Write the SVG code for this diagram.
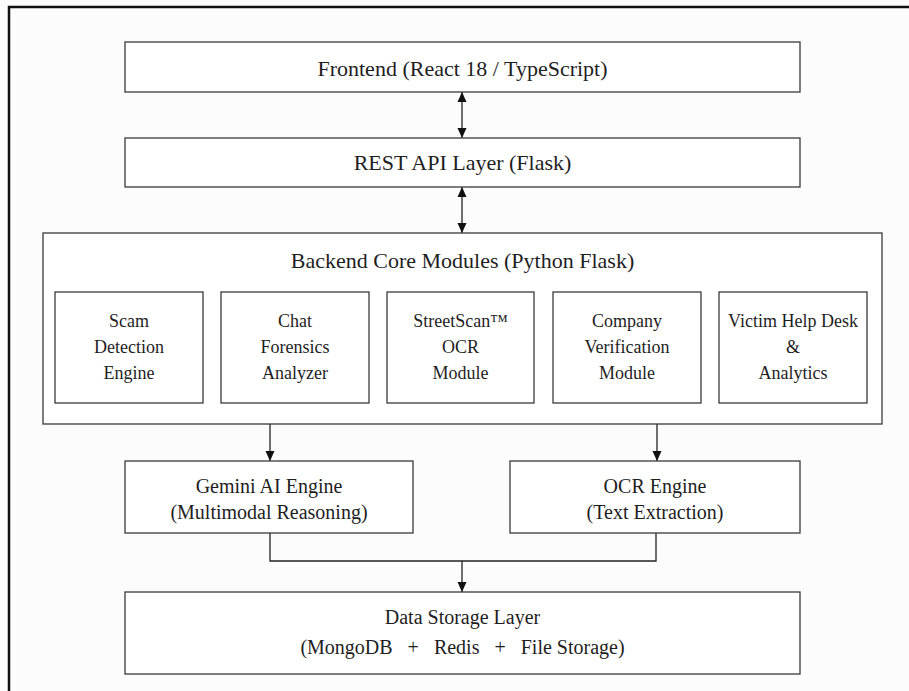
<svg xmlns="http://www.w3.org/2000/svg" width="909" height="691" viewBox="0 0 909 691">
<style>
.box{fill:#ffffff;stroke:#3a3a3a;stroke-width:1.3}
.t{font-family:"Liberation Serif","Times New Roman",serif;fill:#1e1e1e;text-anchor:middle}
.big{font-size:22px}
.mid{font-size:20px}
.sm{font-size:18px}
.c{fill:none;stroke:#222;stroke-width:1.3}
</style>
<defs>
<marker id="ah" viewBox="0 0 10 12" refX="10" refY="6" markerWidth="10" markerHeight="12" markerUnits="userSpaceOnUse" orient="auto-start-reverse">
<path d="M0,1.5 L10,6 L0,10.5 Z" fill="#111"/>
</marker>
</defs>
<rect x="0" y="0" width="909" height="691" fill="#fcfcfc"/>
<path d="M9,691 V7 H909" fill="none" stroke="#111" stroke-width="2.5"/>

<g id="connectors">
<line class="c" x1="462" y1="92" x2="462" y2="138" marker-start="url(#ah)" marker-end="url(#ah)"/>
<line class="c" x1="462" y1="187" x2="462" y2="233" marker-start="url(#ah)" marker-end="url(#ah)"/>
<line class="c" x1="270" y1="424" x2="270" y2="461" marker-end="url(#ah)"/>
<line class="c" x1="657" y1="424" x2="657" y2="461" marker-end="url(#ah)"/>
<path class="c" d="M270,533 V561 H656 V533"/>
<line class="c" x1="462" y1="561" x2="462" y2="592" marker-end="url(#ah)"/>
</g>

<g id="frontend">
<rect class="box" x="125" y="42" width="675" height="50"/>
<text class="t big" x="462.5" y="76">Frontend (React 18 / TypeScript)</text>
</g>

<g id="rest-api">
<rect class="box" x="125" y="138" width="675" height="49"/>
<text class="t big" x="462.5" y="170">REST API Layer (Flask)</text>
</g>

<g id="backend">
<rect class="box" x="43" y="233" width="839" height="191"/>
<text class="t big" x="462.5" y="268">Backend Core Modules (Python Flask)</text>
</g>

<g id="scam-detection">
<rect class="box" x="55" y="292" width="148" height="111"/>
<text class="t sm" x="129" y="327">Scam</text>
<text class="t sm" x="129" y="353">Detection</text>
<text class="t sm" x="129" y="379">Engine</text>
</g>

<g id="chat-forensics">
<rect class="box" x="221" y="292" width="148" height="111"/>
<text class="t sm" x="295" y="327">Chat</text>
<text class="t sm" x="295" y="353">Forensics</text>
<text class="t sm" x="295" y="379">Analyzer</text>
</g>

<g id="streetscan">
<rect class="box" x="387" y="292" width="147" height="111"/>
<text class="t sm" x="460.5" y="327">StreetScan™</text>
<text class="t sm" x="460.5" y="353">OCR</text>
<text class="t sm" x="460.5" y="379">Module</text>
</g>

<g id="company-verification">
<rect class="box" x="553" y="292" width="148" height="111"/>
<text class="t sm" x="627" y="327">Company</text>
<text class="t sm" x="627" y="353">Verification</text>
<text class="t sm" x="627" y="379">Module</text>
</g>

<g id="victim-help">
<rect class="box" x="719" y="292" width="148" height="111"/>
<text class="t sm" x="793" y="327">Victim Help Desk</text>
<text class="t sm" x="793" y="353">&amp;</text>
<text class="t sm" x="793" y="379">Analytics</text>
</g>

<g id="gemini">
<rect class="box" x="125" y="461" width="288" height="72"/>
<text class="t mid" x="269" y="493">Gemini AI Engine</text>
<text class="t mid" x="269" y="519">(Multimodal Reasoning)</text>
</g>

<g id="ocr-engine">
<rect class="box" x="510" y="461" width="290" height="72"/>
<text class="t mid" x="655" y="493">OCR Engine</text>
<text class="t mid" x="655" y="519">(Text Extraction)</text>
</g>

<g id="data-storage">
<rect class="box" x="125" y="592" width="675" height="82"/>
<text class="t mid" x="462.5" y="624">Data Storage Layer</text>
<text class="t mid" x="462.5" y="654" xml:space="preserve" style="white-space:pre">(MongoDB   +   Redis   +   File Storage)</text>
</g>
</svg>
